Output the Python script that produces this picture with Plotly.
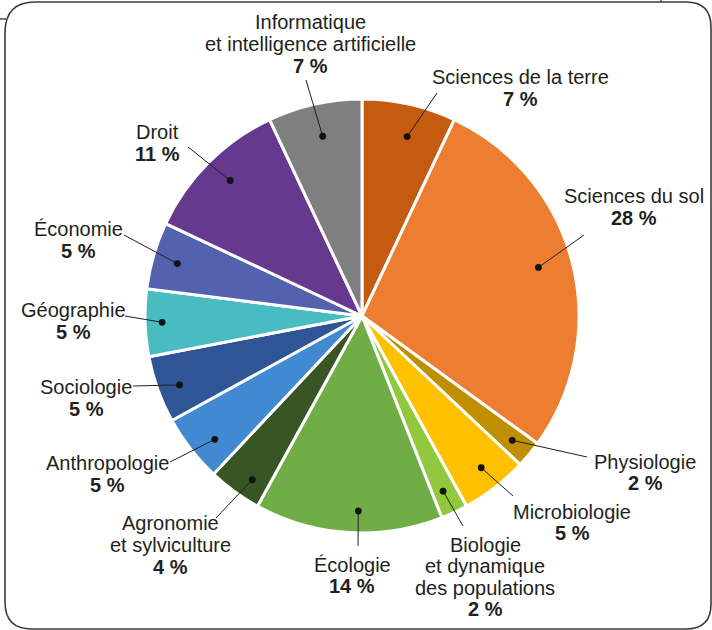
import math
import plotly.graph_objects as go

# Répartition des publications par discipline
categories = [
    "Sciences de la terre",
    "Sciences du sol",
    "Physiologie",
    "Microbiologie",
    "Biologie\net dynamique\ndes populations",
    "Écologie",
    "Agronomie\net sylviculture",
    "Anthropologie",
    "Sociologie",
    "Géographie",
    "Économie",
    "Droit",
    "Informatique\net intelligence artificielle",
]
shares = [7, 28, 2, 5, 2, 14, 4, 5, 5, 5, 5, 11, 7]

colors = [
    "#C55A11", "#ED7D31", "#BF8F00", "#FFC000", "#92C83E", "#70AD47",
    "#375623", "#4189D1", "#2F5597", "#48BCC1", "#5461AE", "#653A8E", "#7F7F7F",
]

W, H = 712, 630
CX, CY, R = 362, 316, 217          # pie centre and radius, in pixels

# label block: centre x, first-line y, line spacing, leader start (x, y),
# dot position inside its slice (fraction of the slice angle, distance from centre)
label_layout = [
    (520, 77, 22, (437, 93), 0.56, 185),
    (634, 196, 22, (584, 235), 0.49, 183),
    (645, 462, 21, (587, 457), 0.50, 195),
    (572, 512, 21, (513, 496), 0.48, 193),
    (485, 545, 21.3, (463, 526), 0.55, 193),
    (352, 565, 20.5, (358, 546), 0.45, 195),
    (170, 523, 22, (216, 518), 0.35, 197),
    (107, 463, 22, (170, 462), 0.38, 192),
    (86, 387, 22, (133, 386), 0.45, 195),
    (73, 310, 22, (125, 316), 0.50, 200),
    (78, 229, 22, (124, 235), 0.48, 192),
    (157, 132, 21.5, (188, 147), 0.52, 189),
    (310, 22, 22, (306, 80), 0.51, 184),
]

FONT = "Liberation Sans, Arial, Helvetica, sans-serif"
INK = "#231F20"

fig = go.Figure()
fig.add_trace(go.Pie(
    labels=[c.replace("\n", " ") for c in categories],
    values=shares,
    sort=False,
    direction="clockwise",
    rotation=0,
    textinfo="none",
    hoverinfo="label+value",
    showlegend=False,
    marker=dict(colors=colors, line=dict(color="white", width=3)),
    domain=dict(
        x=[(CX - R) / W, (CX + R) / W],
        y=[1 - (CY + R) / H, 1 - (CY - R) / H],
    ),
))

shapes = []
annotations = []
cum = 0.0
total = sum(shares)
for name, v, (tx, ty, dy, (lx, ly), frac, rd) in zip(categories, shares, label_layout):
    theta = 2 * math.pi * (cum + v * frac) / total
    cum += v
    px = CX + rd * math.sin(theta)
    py = CY - rd * math.cos(theta)
    # leader line and dot
    shapes.append(dict(type="line", xref="x", yref="y", x0=lx, y0=ly, x1=px, y1=py,
                       line=dict(color=INK, width=1), layer="above"))
    shapes.append(dict(type="circle", xref="x", yref="y", x0=px - 3.4, x1=px + 3.4,
                       y0=py - 3.4, y1=py + 3.4, fillcolor="#111111",
                       line=dict(width=0), layer="above"))
    lines = name.split("\n")
    for i, line in enumerate(lines):
        annotations.append(dict(x=tx, y=ty + i * dy, xref="x", yref="y", text=line,
                                showarrow=False, xanchor="center", yanchor="middle",
                                font=dict(family=FONT, size=20, color=INK)))
    annotations.append(dict(x=tx, y=ty + len(lines) * dy, xref="x", yref="y",
                            text=f"<b>{v} %</b>", showarrow=False,
                            xanchor="center", yanchor="middle",
                            font=dict(family=FONT, size=20, color=INK)))

# rounded frame around the figure
frame = ("M 5,33 Q 5,2 35,2 L 686,2 Q 711,2 711,27 L 711,604 "
         "Q 711,629 686,629 L 32,629 Q 5,629 5,602 Z")
shapes.append(dict(type="path", xref="x", yref="y", path=frame,
                   line=dict(color="#3C3C3C", width=1.6), layer="above"))
shapes.append(dict(type="line", xref="x", yref="y", x0=0, y0=19, x1=6, y1=19,
                   line=dict(color="#3C3C3C", width=1.4), layer="above"))
shapes.append(dict(type="line", xref="x", yref="y", x0=661, y0=0, x1=661, y1=2,
                   line=dict(color="#3C3C3C", width=1.4), layer="above"))

fig.update_layout(
    width=W, height=H,
    margin=dict(l=0, r=0, t=0, b=0),
    paper_bgcolor="white",
    plot_bgcolor="white",
    xaxis=dict(range=[0, W], visible=False, fixedrange=True, domain=[0, 1]),
    yaxis=dict(range=[H, 0], visible=False, fixedrange=True, domain=[0, 1]),
    shapes=shapes,
    annotations=annotations,
)

fig.write_html("out.html")
